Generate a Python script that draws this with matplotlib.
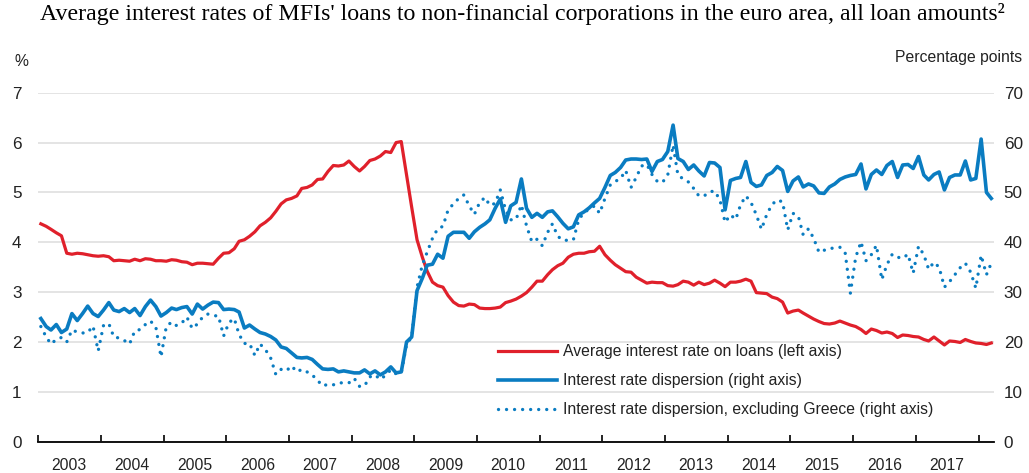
import matplotlib
matplotlib.use("Agg")
import matplotlib.pyplot as plt
import pandas as pd

plt.rcParams['font.family'] = ['Liberation Sans', 'DejaVu Sans']

# monthly data, Jan 2003 - Mar 2018
avg_rate = [
    4.37, 4.32, 4.26, 4.19, 4.13, 3.78, 3.76, 3.78, 3.77, 3.75, 3.73, 3.72,  # 2003
    3.73, 3.71, 3.63, 3.64, 3.63, 3.62, 3.66, 3.63, 3.67, 3.66, 3.63, 3.63,  # 2004
    3.62, 3.65, 3.64, 3.61, 3.60, 3.55, 3.58, 3.58, 3.57, 3.56, 3.68, 3.78,  # 2005
    3.79, 3.87, 4.02, 4.05, 4.12, 4.21, 4.33, 4.40, 4.49, 4.62, 4.77, 4.85,  # 2006
    4.88, 4.93, 5.08, 5.10, 5.15, 5.26, 5.27, 5.42, 5.54, 5.53, 5.55, 5.63,  # 2007
    5.52, 5.43, 5.52, 5.64, 5.67, 5.73, 5.82, 5.80, 6.00, 6.02, 5.35, 4.70,  # 2008
    4.05, 3.70, 3.42, 3.20, 3.13, 3.10, 2.93, 2.80, 2.73, 2.72, 2.76, 2.75,  # 2009
    2.68, 2.67, 2.67, 2.68, 2.70, 2.79, 2.82, 2.86, 2.92, 2.99, 3.10, 3.22,  # 2010
    3.22, 3.35, 3.45, 3.53, 3.58, 3.70, 3.76, 3.78, 3.78, 3.81, 3.82, 3.92,  # 2011
    3.75, 3.64, 3.55, 3.48, 3.41, 3.40, 3.30, 3.24, 3.18, 3.20, 3.19, 3.19,  # 2012
    3.13, 3.12, 3.15, 3.22, 3.20, 3.14, 3.20, 3.15, 3.18, 3.24, 3.18, 3.11,  # 2013
    3.20, 3.20, 3.22, 3.26, 3.22, 2.99, 2.98, 2.97, 2.90, 2.87, 2.80, 2.58,  # 2014
    2.62, 2.64, 2.58, 2.52, 2.46, 2.41, 2.37, 2.36, 2.38, 2.42, 2.38, 2.34,  # 2015
    2.31, 2.25, 2.17, 2.26, 2.23, 2.18, 2.20, 2.17, 2.09, 2.14, 2.13, 2.11,  # 2016
    2.10, 2.05, 2.02, 2.10, 2.02, 1.94, 2.02, 2.01, 1.99, 2.05, 2.01, 1.98,  # 2017
    1.97, 1.95, 1.98,                                                        # 2018
]

dispersion = [
    24.7, 23.1, 22.4, 23.5, 21.9, 22.6, 25.7, 24.3, 25.7, 27.2, 25.7, 25.1,
    26.4, 27.9, 26.4, 26.1, 26.7, 25.9, 26.7, 25.3, 27.1, 28.4, 27.1, 25.2,
    25.9, 26.8, 26.5, 26.9, 27.1, 25.6, 27.6, 26.6, 27.4, 28.0, 27.9, 26.5,
    26.6, 26.5, 26.0, 22.8, 23.4, 22.6, 21.9, 21.6, 21.1, 20.4, 19.0, 18.7,
    17.8, 16.9, 16.8, 16.9, 16.5, 15.5, 14.6, 14.5, 14.6, 14.0, 14.2, 14.0,
    13.8, 13.8, 14.4, 13.6, 14.2, 13.4, 14.0, 15.0, 13.8, 14.0, 20.0, 21.0,
    30.3, 32.8, 35.4, 35.6, 37.6, 36.8, 41.2, 42.0, 42.0, 42.0, 40.8, 42.1,
    43.0, 43.7, 44.5, 46.8, 48.7, 44.0, 47.3, 48.0, 52.7, 46.8, 45.0, 45.8,
    45.0, 46.1, 46.3, 45.1, 43.8, 42.7, 43.1, 45.5, 46.1, 46.9, 47.9, 48.8,
    51.0, 53.4, 54.0, 55.0, 56.5, 56.7, 56.7, 56.6, 56.7, 54.2, 56.2, 56.6,
    58.2, 63.5, 56.8, 56.2, 54.6, 55.5, 54.3, 53.3, 56.0, 55.9, 55.0, 46.5,
    52.4, 52.8, 53.0, 56.2, 52.0, 51.2, 51.5, 53.4, 54.0, 55.2, 54.4, 50.2,
    52.3, 53.1, 51.1, 51.7, 51.3, 49.9, 49.8, 51.1, 51.7, 52.6, 53.1, 53.4,
    53.6, 55.7, 50.7, 53.6, 54.5, 53.6, 55.4, 56.2, 53.0, 55.5, 55.6, 54.8,
    57.2, 53.5, 52.5, 53.6, 54.1, 50.5, 53.0, 53.5, 53.5, 56.3, 52.5, 52.8,
    60.7, 50.0, 48.8,
]

dispersion_ex_greece = [
    23.1, 21.0, 19.6, 20.5, 20.9, 20.0, 22.4, 22.0, 21.8, 21.9, 23.2, 18.2,
    23.3, 23.7, 21.0, 20.8, 20.3, 19.6, 22.2, 22.5, 23.5, 24.2, 23.0, 17.0,
    23.1, 24.0, 23.3, 23.8, 25.0, 22.7, 23.6, 25.0, 25.6, 25.3, 25.2, 21.2,
    23.9, 24.7, 21.5, 19.7, 19.7, 17.3, 19.6, 18.5, 16.8, 13.5, 14.5, 14.2,
    15.2, 14.0, 14.5, 14.0, 13.4, 12.3, 11.2, 11.5, 11.4, 11.8, 11.8, 11.8,
    12.7, 11.1, 11.2, 13.0, 13.4, 12.5, 13.3, 14.4, 13.6, 13.8, 19.5, 21.0,
    31.0, 35.5, 38.0, 40.8, 42.7, 43.2, 46.5, 47.7, 48.8, 49.5, 47.3, 45.6,
    48.0, 49.0, 47.4, 47.8, 50.5, 46.5, 44.5, 44.6, 47.5, 43.3, 40.1, 40.6,
    39.3, 42.0, 43.7, 41.2, 40.4, 40.4, 40.5, 44.5, 46.0, 46.6, 47.3, 45.8,
    48.8, 51.5, 52.2, 52.8, 54.4, 51.0, 53.0, 55.3, 55.6, 53.6, 52.2, 52.0,
    53.5, 59.5, 53.5, 52.7, 52.1, 50.8, 49.3, 49.3, 50.1, 50.3, 48.5, 44.0,
    45.5, 44.6, 47.5, 49.3, 48.0, 45.5, 42.6, 45.6, 47.6, 48.5, 48.1, 42.5,
    45.8, 45.2, 41.5, 42.7, 40.8, 38.0, 38.4, 38.8, 38.8, 39.0, 37.8, 29.8,
    37.0, 40.1, 36.3, 37.5, 39.4, 32.5, 35.5, 37.6, 37.0, 36.8, 37.6, 33.8,
    39.2, 37.5, 34.6, 36.0, 35.0, 31.0, 32.1, 33.5, 34.9, 35.8, 34.0, 30.8,
    37.4, 33.5, 35.8,
]

years = list(range(2003, 2018))
labels = [
    "Average interest rate on loans (left axis)",
    "Interest rate dispersion (right axis)",
    "Interest rate dispersion, excluding Greece (right axis)",
]

red = '#e0202b'
blue = '#0a7cc1'
fs = 11.3  # no narrow font available, so a bit smaller

dates = pd.date_range('2003-01-01', periods=len(avg_rate), freq='MS') + pd.Timedelta(days=15)

fig = plt.figure(figsize=(10.29, 4.73), dpi=100)
ax = fig.add_axes([0.0372, 0.0662, 0.9288, 0.7378])
ax2 = ax.twinx()

l1, = ax.plot(dates, avg_rate, color=red, lw=2.3, solid_joinstyle='round', zorder=3)
l3, = ax2.plot(dates, dispersion_ex_greece, color=blue, lw=2.4,
               linestyle=(0, (0.01, 2.4)), dash_capstyle='round', zorder=2)
l2, = ax2.plot(dates, dispersion, color=blue, lw=2.6, solid_joinstyle='round', zorder=3)

ax.set_ylim(0, 7)
ax2.set_ylim(0, 70)
ax.set_xlim(pd.Timestamp('2003-01-01'), pd.Timestamp('2018-04-01'))
ax.set_yticks(range(0, 8))
ax2.set_yticks(range(0, 80, 10))
ax.grid(axis='y', color='#dcdcdc', lw=1.1)
ax.set_axisbelow(True)

for a in (ax, ax2):
    for s in ('top', 'left', 'right'):
        a.spines[s].set_visible(False)
ax2.spines['bottom'].set_visible(False)
ax.spines['bottom'].set_linewidth(1.3)

ax.tick_params(axis='y', length=0, pad=12, labelsize=fs + 1, labelcolor='#222222')
ax2.tick_params(axis='y', length=0, pad=7, labelsize=fs + 1, labelcolor='#222222')

# year boundaries as ticks, labels in the middle of each year
ax.set_xticks([pd.Timestamp(f'{y}-01-01') for y in range(2003, 2019)])
ax.set_xticklabels([])
ax.set_xticks([pd.Timestamp(f'{y}-07-01') for y in years], minor=True)
ax.set_xticklabels([str(y) for y in years], minor=True)
ax.tick_params(axis='x', which='major', direction='in', length=5, width=1.2)
ax.tick_params(axis='x', which='minor', length=0, pad=12, labelsize=fs, labelcolor='#222222')

fig.text(0.508, 0.957, "Average interest rates of MFIs' loans to non-financial corporations in the euro area, all loan amounts²",
         family='Liberation Serif', fontsize=17.2, ha='center', va='baseline')
fig.text(0.021, 0.869, "%", fontsize=fs, ha='center', va='center', color='#222222')
fig.text(0.993, 0.879, "Percentage points", fontsize=fs, ha='right', va='center', color='#222222')

fig.legend([l1, l2, l3], labels, loc='upper left', bbox_to_anchor=(498 / 1029, 1 - 344 / 473),
           frameon=False, fontsize=fs, handlelength=3.75, handletextpad=0.4,
           labelspacing=0.9, borderpad=0, borderaxespad=0, labelcolor='#222222')

fig.savefig('out.png', dpi=100)
